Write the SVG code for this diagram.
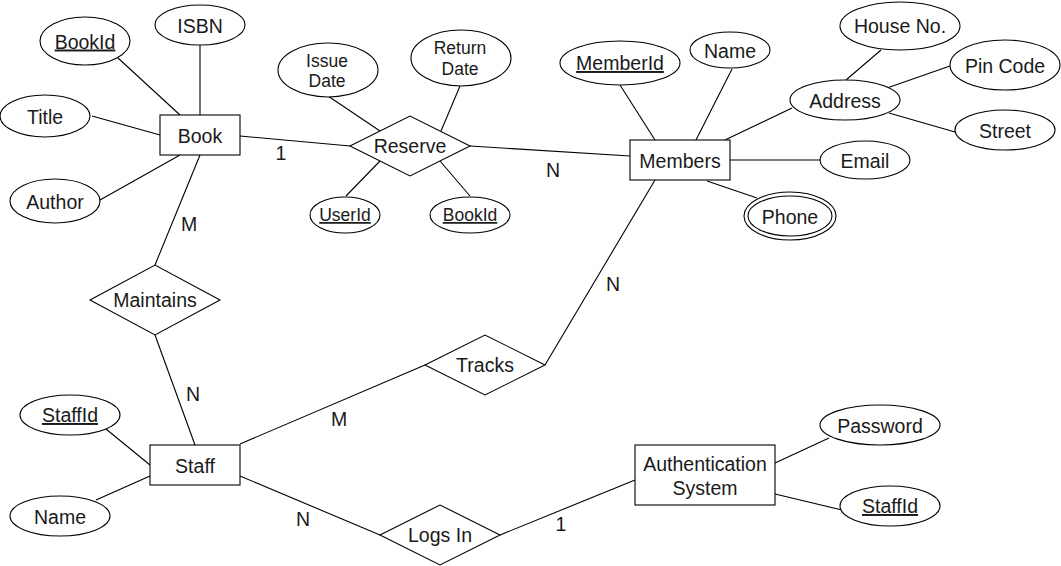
<svg xmlns="http://www.w3.org/2000/svg" width="1061" height="566" viewBox="0 0 1061 566">
<style>
.s{fill:#fff;stroke:#000;stroke-width:1.1}
.c line{stroke:#000;stroke-width:1.1}
text{font-family:"Liberation Sans",Arial,sans-serif;font-size:19.5px;fill:#1a1a1a;text-anchor:middle}
.sm{font-size:17.5px}
.u{text-decoration:underline}
</style>
<rect width="1061" height="566" fill="#fff"/>
<g class="c" id="connectors">
<line x1="118" y1="58" x2="180" y2="115"/>
<line x1="200" y1="45" x2="200" y2="115"/>
<line x1="92" y1="116" x2="160" y2="135"/>
<line x1="100" y1="200" x2="180" y2="155"/>
<line x1="240" y1="136" x2="350" y2="146"/>
<line x1="470" y1="146" x2="630" y2="156"/>
<line x1="328" y1="96" x2="380" y2="131"/>
<line x1="460" y1="86" x2="441" y2="131"/>
<line x1="346" y1="196" x2="380" y2="161"/>
<line x1="470" y1="196" x2="440" y2="161"/>
<line x1="620" y1="85" x2="655" y2="140"/>
<line x1="732" y1="69" x2="696" y2="140"/>
<line x1="725" y1="140" x2="792" y2="108"/>
<line x1="881" y1="50" x2="846" y2="80"/>
<line x1="950" y1="66" x2="887" y2="88"/>
<line x1="955" y1="132" x2="889" y2="113"/>
<line x1="730" y1="160" x2="820" y2="160"/>
<line x1="707" y1="181" x2="757" y2="198"/>
<line x1="655" y1="180" x2="545" y2="365"/>
<line x1="200" y1="155" x2="155" y2="265"/>
<line x1="155" y1="335" x2="195" y2="445"/>
<line x1="240" y1="444" x2="425" y2="365"/>
<line x1="106" y1="429" x2="150" y2="465"/>
<line x1="96" y1="500" x2="150" y2="476"/>
<line x1="240" y1="476" x2="380" y2="535"/>
<line x1="500" y1="535" x2="635" y2="480"/>
<line x1="775" y1="463" x2="829" y2="438"/>
<line x1="775" y1="494" x2="842" y2="510"/>
</g>
<g id="labels">
<text x="281" y="160">1</text>
<text x="553" y="177">N</text>
<text x="189" y="231">M</text>
<text x="193" y="401">N</text>
<text x="613" y="291">N</text>
<text x="339" y="426">M</text>
<text x="303" y="526">N</text>
<text x="561" y="531">1</text>
</g>
<g id="book"><rect class="s" x="160" y="115" width="80" height="40"/><text x="200" y="142.5">Book</text></g>
<g id="bookid"><ellipse class="s" cx="85" cy="41" rx="45" ry="24"/><text class="u" x="85" y="48.5">BookId</text></g>
<g id="isbn"><ellipse class="s" cx="200" cy="25" rx="45" ry="20"/><text x="200" y="32.5">ISBN</text></g>
<g id="title"><ellipse class="s" cx="45" cy="116" rx="45" ry="21"/><text x="45" y="123.5">Title</text></g>
<g id="author"><ellipse class="s" cx="55" cy="201" rx="45" ry="22"/><text x="55" y="208.5">Author</text></g>
<g id="reserve"><polygon class="s" points="350,146 410,116 470,146 410,176"/><text x="410" y="153">Reserve</text></g>
<g id="issuedate"><ellipse class="s" cx="328" cy="70" rx="50" ry="27"/><text class="sm" x="327" y="66.5">Issue</text><text class="sm" x="327" y="86.5">Date</text></g>
<g id="returndate"><ellipse class="s" cx="461" cy="58" rx="50" ry="28"/><text class="sm" x="460" y="54">Return</text><text class="sm" x="460" y="75">Date</text></g>
<g id="userid"><ellipse class="s" cx="345" cy="215" rx="35" ry="18"/><text class="sm u" x="345" y="221">UserId</text></g>
<g id="bookid2"><ellipse class="s" cx="470" cy="215" rx="40" ry="18"/><text class="sm u" x="470" y="221">BookId</text></g>
<g id="members"><rect class="s" x="630" y="140" width="100" height="40"/><text x="680" y="168">Members</text></g>
<g id="memberid"><ellipse class="s" cx="620" cy="63" rx="60" ry="22"/><text class="u" x="620" y="70">MemberId</text></g>
<g id="mname"><ellipse class="s" cx="730" cy="50" rx="40" ry="18"/><text x="730" y="57.5">Name</text></g>
<g id="address"><ellipse class="s" cx="845" cy="100" rx="55" ry="20"/><text x="845" y="107.5">Address</text></g>
<g id="houseno"><ellipse class="s" cx="900" cy="26" rx="60" ry="24"/><text x="900" y="33">House No.</text></g>
<g id="pincode"><ellipse class="s" cx="1005" cy="65" rx="55" ry="25"/><text x="1005" y="72.5">Pin Code</text></g>
<g id="street"><ellipse class="s" cx="1005" cy="130" rx="50" ry="20"/><text x="1005" y="137.5">Street</text></g>
<g id="email"><ellipse class="s" cx="865" cy="160" rx="45" ry="19"/><text x="865" y="167.5">Email</text></g>
<g id="phone"><ellipse class="s" cx="790" cy="216" rx="46" ry="24"/><ellipse class="s" cx="790" cy="216" rx="42" ry="20"/><text x="790" y="223.5">Phone</text></g>
<g id="maintains"><polygon class="s" points="90,300 155,265 220,300 155,335"/><text x="155" y="307">Maintains</text></g>
<g id="tracks"><polygon class="s" points="425,365 485,335 545,365 485,395"/><text x="485" y="372">Tracks</text></g>
<g id="staff"><rect class="s" x="150" y="445" width="90" height="40"/><text x="195" y="472.5">Staff</text></g>
<g id="staffid"><ellipse class="s" cx="70" cy="415" rx="50" ry="20"/><text class="u" x="70" y="422">StaffId</text></g>
<g id="sname"><ellipse class="s" cx="60" cy="516" rx="50" ry="20"/><text x="60" y="523.5">Name</text></g>
<g id="logsin"><polygon class="s" points="380,535 440,505 500,535 440,565"/><text x="440" y="542">Logs In</text></g>
<g id="auth"><rect class="s" x="635" y="445" width="140" height="60"/><text x="705" y="471">Authentication</text><text x="705" y="495">System</text></g>
<g id="password"><ellipse class="s" cx="880" cy="425" rx="60" ry="20"/><text x="880" y="432.5">Password</text></g>
<g id="staffid2"><ellipse class="s" cx="890" cy="506" rx="50" ry="20"/><text class="u" x="890" y="513">StaffId</text></g>
</svg>
